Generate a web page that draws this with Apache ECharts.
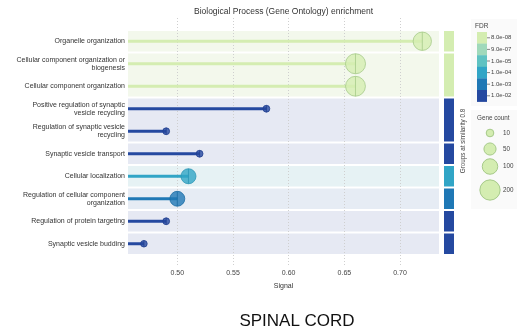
<!DOCTYPE html>
<html>
<head>
<meta charset="utf-8">
<script src="https://cdn.jsdelivr.net/npm/echarts@6/dist/echarts.min.js"></script>
<style>
  html, body { margin: 0; padding: 0; background: #ffffff; }
  #chart { width: 517px; height: 334px; }
</style>
</head>
<body>
<div id="chart"></div>
<script>
// Enriched GO biological-process terms (top to bottom)
const terms = [
  'Organelle organization',
  'Cellular component organization or\nbiogenesis',
  'Cellular component organization',
  'Positive regulation of synaptic\nvesicle recycling',
  'Regulation of synaptic vesicle\nrecycling',
  'Synaptic vesicle transport',
  'Cellular localization',
  'Regulation of cellular component\norganization',
  'Regulation of protein targeting',
  'Synaptic vesicle budding'
];
const signal    = [0.72, 0.66, 0.66, 0.58, 0.49, 0.52, 0.51, 0.50, 0.49, 0.47];
const fdr       = [8.0e-08, 8.5e-08, 8.8e-08, 9.2e-03, 9.5e-03, 9.8e-03, 1.1e-04, 1.2e-03, 9.6e-03, 9.9e-03];
const geneCount = [155, 195, 190, 6, 6, 6, 92, 90, 6, 5];
// similarity group of each term (terms in one group share a band)
const termGroup = [0, 1, 1, 2, 2, 3, 4, 5, 6, 7];

// FDR colour scale ticks
const fdrTickLabels = ['8.0e-08', '9.0e-07', '1.0e-05', '1.0e-04', '1.0e-03', '1.0e-02'];
const fdrTickValues = [8.0e-08, 9.0e-07, 1.0e-05, 1.0e-04, 1.0e-03, 1.0e-02];
// gene count size legend
const countLegend = [10, 50, 100, 200];

// ---- styling ----
const FDR_FILL = ['#d4edb1', '#a0d9bb', '#5fc2c2', '#31a5c6', '#1f78b5', '#2549a0'];
const FDR_EDGE = ['#a6ca89', '#84c2a2', '#4aa9aa', '#2b95b5', '#1b6ca3', '#203f8f'];
const FDR_BAND = ['#f3f8ec', '#eef7f2', '#e9f5f5', '#e6f2f4', '#e6ecf4', '#e6e9f3'];
const FONT = '"Liberation Sans", Arial, sans-serif';
const X_MIN = 0.4557, X_MAX = 0.735;

function fdrBin(v) {
  let best = 0, bestD = Infinity;
  fdrTickValues.forEach((t, i) => {
    const d = Math.abs(Math.log10(v) - Math.log10(t));
    if (d < bestD) { bestD = d; best = i; }
  });
  return best;
}
function dotSize(count) { return 4 + 1.15 * Math.sqrt(count); }

// collect contiguous groups: [firstRow, lastRow, colourBin]
const groups = [];
termGroup.forEach((g, i) => {
  const last = groups[groups.length - 1];
  if (last && last.id === g) {
    last.end = i;
    last.bin = Math.min(last.bin, fdrBin(fdr[i]));
  } else {
    groups.push({ id: g, start: i, end: i, bin: fdrBin(fdr[i]) });
  }
});

const circlePath = 'path://M50,0 A50,50 0 1,1 50,100 A50,50 0 1,1 50,0 Z M50,0 L50,100';

const chart = echarts.init(document.getElementById('chart'), null, { renderer: 'canvas' });

// legend graphics
const graphics = [];
graphics.push({
  type: 'text', x: 283.5, y: 11.5,
  style: { text: 'Biological Process (Gene Ontology) enrichment', font: '8.5px ' + FONT, fill: '#333', align: 'center', verticalAlign: 'middle' }
});
graphics.push({
  type: 'text', x: 463, y: 141, rotation: Math.PI / 2,
  style: { text: 'Groups at similarity 0.8', font: '6.3px ' + FONT, fill: '#444', align: 'center', verticalAlign: 'middle' }
});
graphics.push({
  type: 'text', x: 297, y: 321,
  style: { text: 'SPINAL CORD', font: '17px ' + FONT, fill: '#111', align: 'center', verticalAlign: 'middle' }
});
// FDR colour bar
graphics.push({ type: 'rect', shape: { x: 471, y: 19, width: 46, height: 87 }, style: { fill: '#fafafa' } });
graphics.push({ type: 'text', x: 475, y: 26, style: { text: 'FDR', font: '6.5px ' + FONT, fill: '#444', verticalAlign: 'middle' } });
const barTop = 32, blockH = 11.6;
fdrTickLabels.forEach((lab, i) => {
  const cy = barTop + blockH * (i + 0.5);
  graphics.push({ type: 'rect', shape: { x: 477, y: barTop + blockH * i, width: 10, height: blockH + 0.3 }, style: { fill: FDR_FILL[i] } });
  graphics.push({ type: 'line', shape: { x1: 487, y1: cy, x2: 490, y2: cy }, style: { stroke: '#666', lineWidth: 0.8 } });
  graphics.push({ type: 'text', x: 491, y: cy, style: { text: lab, font: '6px ' + FONT, fill: '#444', verticalAlign: 'middle' } });
});
// gene count legend
graphics.push({ type: 'rect', shape: { x: 471, y: 110, width: 46, height: 99 }, style: { fill: '#fafafa' } });
graphics.push({ type: 'text', x: 477, y: 118, style: { text: 'Gene count', font: '6.3px ' + FONT, fill: '#444', verticalAlign: 'middle' } });
const legendY = [133, 149, 166.5, 190];
countLegend.forEach((c, i) => {
  graphics.push({ type: 'circle', shape: { cx: 490, cy: legendY[i], r: dotSize(c) / 2 }, style: { fill: FDR_FILL[0], stroke: FDR_EDGE[0], lineWidth: 1 } });
  graphics.push({ type: 'text', x: 503, y: legendY[i], style: { text: String(c), font: '6.3px ' + FONT, fill: '#444', verticalAlign: 'middle' } });
});

const option = {
  animation: false,
  backgroundColor: '#ffffff',
  textStyle: { fontFamily: FONT },
  grid: [
    { left: 128, right: 78, top: 30, bottom: 79 },
    { left: 128, right: 78, top: 18, bottom: 67 }
  ],
  xAxis: [
    { type: 'value', gridIndex: 0, min: X_MIN, max: X_MAX, show: false },
    {
      type: 'value', gridIndex: 1, min: X_MIN, max: X_MAX,
      axisLine: { show: false }, axisTick: { show: false },
      axisLabel: { fontSize: 7, color: '#444', margin: 3, showMinLabel: false, showMaxLabel: false,
                   formatter: v => v.toFixed(2) },
      splitLine: { show: true, showMinLine: false, showMaxLine: false,
                   lineStyle: { color: '#cfcfcf', type: [1, 2], width: 1 } },
      name: 'Signal', nameLocation: 'middle', nameGap: 16,
      nameTextStyle: { fontSize: 7, color: '#333' }
    }
  ],
  yAxis: [
    {
      type: 'category', gridIndex: 0, data: terms, inverse: true,
      axisLine: { show: false }, axisTick: { show: false }, splitLine: { show: false },
      axisLabel: { fontSize: 7, color: '#333', margin: 3, lineHeight: 8, align: 'right' }
    },
    { type: 'value', gridIndex: 1, min: 0, max: 1, show: false, splitLine: { show: false } }
  ],
  series: [
    {
      // group bands behind the plot and the group colour strip at its right
      type: 'custom', xAxisIndex: 0, yAxisIndex: 0, z: -1, silent: true,
      data: groups.map(g => [g.start, g.end, g.bin]),
      encode: { x: -1, y: -1 },
      renderItem: (params, api) => {
        const s = api.value(0), e = api.value(1), b = api.value(2);
        const h = api.size([0, 1])[1];
        const pTop = api.coord([X_MIN, s]);
        const pBot = api.coord([X_MAX, e]);
        const y0 = pTop[1] - h / 2 + 1, y1 = pBot[1] + h / 2 - 1;
        const x0 = pTop[0], x1 = pBot[0];
        return {
          type: 'group',
          children: [
            { type: 'rect', shape: { x: x0, y: y0, width: x1 - x0, height: y1 - y0 }, style: { fill: FDR_BAND[b] } },
            { type: 'rect', shape: { x: x1 + 5, y: y0, width: 10, height: y1 - y0 }, style: { fill: FDR_FILL[b] } }
          ]
        };
      }
    },
    {
      // lollipop stems
      type: 'custom', xAxisIndex: 0, yAxisIndex: 0, silent: true,
      data: signal.map((v, i) => [v, i, fdrBin(fdr[i])]),
      renderItem: (params, api) => {
        const i = api.value(1);
        const p0 = api.coord([X_MIN, i]);
        const p1 = api.coord([api.value(0), i]);
        return { type: 'line', shape: { x1: p0[0], y1: p0[1], x2: p1[0], y2: p1[1] },
                 style: { stroke: FDR_FILL[api.value(2)], lineWidth: 3 } };
      }
    },
    {
      type: 'scatter', xAxisIndex: 0, yAxisIndex: 0, z: 5,
      data: signal.map((v, i) => {
        const b = fdrBin(fdr[i]);
        return {
          value: [v, i],
          symbol: circlePath,
          symbolSize: dotSize(geneCount[i]),
          itemStyle: { color: FDR_FILL[b], borderColor: FDR_EDGE[b], borderWidth: 1 }
        };
      })
    }
  ],
  graphic: graphics
};
chart.setOption(option);
</script>
</body>
</html>
